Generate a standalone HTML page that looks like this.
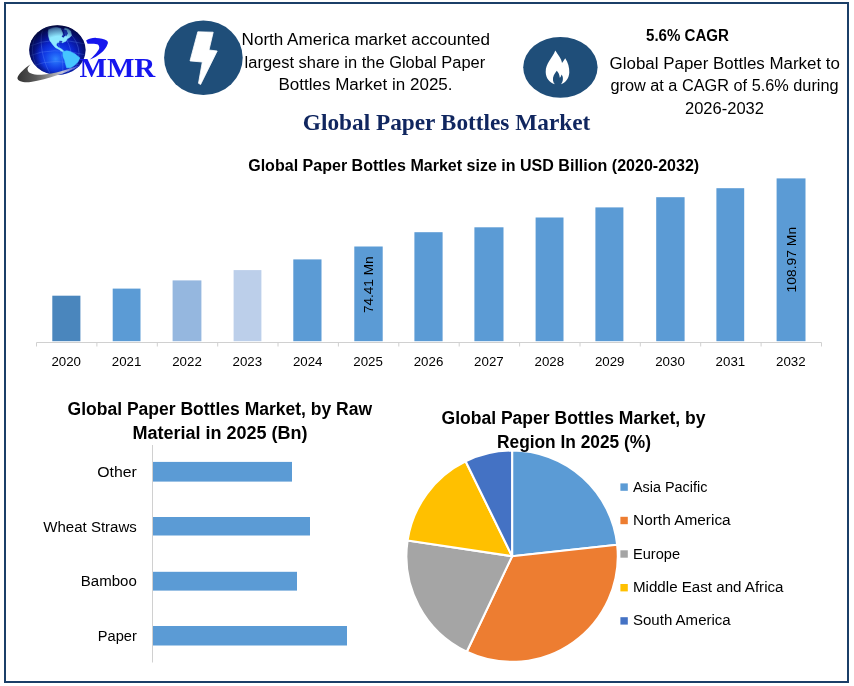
<!DOCTYPE html>
<html lang="en"><head><meta charset="utf-8"><title>Global Paper Bottles Market</title>
<style>html,body{margin:0;padding:0;background:#fff;}body{width:854px;height:686px;overflow:hidden;}svg{display:block;}text{font-family:"Liberation Sans",Arial,sans-serif;fill:#000;}.b{font-weight:bold;}.serif{font-family:"Liberation Serif","Times New Roman",serif;font-weight:bold;}</style></head><body>
<svg width="854" height="686" viewBox="0 0 854 686">
<defs><radialGradient id="gl" cx="0.52" cy="0.6" r="0.6"><stop offset="0" stop-color="#0c34f0"/><stop offset="0.45" stop-color="#0a22c8"/><stop offset="0.75" stop-color="#07148a"/><stop offset="1" stop-color="#030840"/></radialGradient><radialGradient id="gl2" cx="0.47" cy="0.68" r="0.42"><stop offset="0" stop-color="#2f86ff"/><stop offset="0.5" stop-color="#1548f0" stop-opacity="0.7"/><stop offset="1" stop-color="#0a2ee6" stop-opacity="0"/></radialGradient><radialGradient id="gl3" cx="0.54" cy="0.58" r="0.6"><stop offset="0.6" stop-color="#040a50" stop-opacity="0"/><stop offset="0.85" stop-color="#040a50" stop-opacity="0.5"/><stop offset="1" stop-color="#02062e" stop-opacity="0.92"/></radialGradient><linearGradient id="sw" x1="0" y1="0" x2="1" y2="0"><stop offset="0" stop-color="#333"/><stop offset="0.3" stop-color="#5a5a5a"/><stop offset="0.55" stop-color="#9a9a9a"/><stop offset="0.72" stop-color="#c4c6d6"/><stop offset="0.9" stop-color="#5f6fd8"/><stop offset="1" stop-color="#1a2ad0"/></linearGradient><clipPath id="gc"><ellipse cx="57.4" cy="50.1" rx="28.2" ry="24.9"/></clipPath></defs>
<rect width="854" height="686" fill="#fff"/>
<rect x="5" y="3" width="843" height="679" fill="none" stroke="#1b3f68" stroke-width="2"/>
<g id="logo">
<ellipse cx="57.4" cy="50.1" rx="28.2" ry="24.9" fill="url(#gl)"/>
<g clip-path="url(#gc)">
<ellipse cx="57.4" cy="50.1" rx="28.2" ry="24.9" fill="url(#gl2)"/>
<g fill="none" stroke="#6f9cff" stroke-width="0.5" opacity="0.55"><ellipse cx="52" cy="54" rx="9" ry="27" transform="rotate(-14 52 54)"/><ellipse cx="52" cy="54" rx="19" ry="27" transform="rotate(-14 52 54)"/><ellipse cx="52" cy="54" rx="27" ry="27" transform="rotate(-14 52 54)"/><path d="M30 46 Q52 36 86 44 M29 56 Q52 46 86 55 M32 66 Q55 57 84 66"/></g>
<path d="M48.7 29.5 L52.5 28.0 L56.3 27.4 L60.5 28.5 L61.9 31.4 L62.9 34.2 L61.5 36.6 L63.4 38.0 L65.7 35.6 L64.3 31.4 L64.8 28.1 L68.1 29.0 L70.5 30.9 L71.6 35.6 L69.5 37.5 L67.6 38.5 L65.7 41.3 L62.4 42.7 L60.0 42.0 L57.2 42.7 L56.1 45.1 L58.2 47.5 L61.5 48.9 L63.8 51.3 L62.4 51.7 L59.1 49.4 L55.3 47.5 L52.5 44.2 L49.8 40.4 L48.5 36.1 L48.2 32.3 Z" fill="#8ee9ff" stroke="#8ee9ff" stroke-width="0.6" stroke-linejoin="round"/>
<path d="M62.5 29.5 L66.5 30 L68 33.5 L66 36.5 L64.2 33 Z M59.5 40.8 L62.5 41 L61.5 43 L59 42.5 Z" fill="#0b22b0" opacity="0.85"/>
<path d="M62.9 51.7 L66.7 50.8 L69.5 51.3 L75.2 54.1 L79.9 57.9 L78.0 61.7 L74.3 65.5 L70.5 67.8 L66.7 67.8 L65.7 64.5 L64.8 60.7 L62.9 56.0 Z" fill="#46c6ff" stroke="#46c6ff" stroke-width="0.6" stroke-linejoin="round"/>
<ellipse cx="57.4" cy="50.1" rx="28.2" ry="24.9" fill="url(#gl3)"/>
</g>
<path d="M30.7 64.3 C28.5 66.5 27.2 68.3 27.6 69.8 C28 71.8 29 72.6 30.7 73.2 C34.5 74.8 39 75 43.9 74.5 C48 74.2 52 73.6 56.3 72.6 C60 71.7 64 70.5 67.6 69.3 L79.6 65.2 L79.7 65.9 C75.5 68 71.5 69.8 67.6 71.6 C64 73.2 60 74.6 56.3 75.6 C52 76.9 48 78.2 43.9 79.2 C39.5 80.4 35 81.4 30.7 82 C27 82.4 22.5 82.3 19.8 81 C17.2 79.8 17 78.2 17.9 76.6 C19.5 73.5 24.5 68 30.7 64.3 Z" fill="url(#sw)"/>
<path d="M86.1 40.5 C89 38.5 93 37.7 96.1 37.9 C100 37.9 104.5 38.8 106.6 40.5 C108 41.5 108.2 42.8 107.7 43.7 C106.5 47.5 104 50.5 101.3 52.7 C98 55.5 94 58 89.8 59.5 C93 57 95.8 54 97.7 51.1 C98.8 49.5 99.5 48.2 99.2 46.9 C99 45.3 98.2 44.5 97.1 44.2 C94 43.5 90.5 43.6 87.6 43.7 Z" fill="#1616ee"/>
<text class="serif" x="79.5" y="76.6" font-size="28" textLength="75.8" lengthAdjust="spacingAndGlyphs" style="fill:#1616ee">MMR</text>
</g>
<ellipse cx="203.4" cy="57.8" rx="39.3" ry="37.3" fill="#1f4e79"/>
<path d="M197.8 31.8 L213.2 32.2 L209 50 L217.2 51 L200.6 84.5 L198.5 83.3 L202.3 62 L190 60.9 Z" fill="#fff" stroke="#fff" stroke-width="0.8" stroke-linejoin="round"/>
<ellipse cx="560.4" cy="67.3" rx="37.2" ry="30.4" fill="#1f4e79"/>
<path d="M555.3 50.6 C558 55 561.5 58.5 562 63 C563 61.5 564.3 60 565.2 58.3 C568 62.5 569.5 67.5 569.3 72.5 C569 78 566 82.5 561 84.2 C563.5 81 563.5 77 561.5 74.5 C561.2 76 560.6 77 559.8 77.8 C559.5 75 558.5 72.5 556.8 70.8 C554.5 73.5 552.5 77 553 80.5 C553.2 82 553.8 83.2 554.8 84.2 C549.5 82.8 545.8 78 545.7 72 C545.6 63.5 552.5 58 555.3 50.6 Z" fill="#fff"/>
<text x="241.6" y="45.1" font-size="15.6" textLength="248.4" lengthAdjust="spacingAndGlyphs">North America market accounted</text>
<text x="244.6" y="67.5" font-size="15.6" textLength="240.6" lengthAdjust="spacingAndGlyphs">largest share in the Global Paper</text>
<text x="278.4" y="89.8" font-size="15.6" textLength="174.2" lengthAdjust="spacingAndGlyphs">Bottles Market in 2025.</text>
<text x="646" y="40.8" font-size="15.8" textLength="83" lengthAdjust="spacingAndGlyphs" class="b">5.6% CAGR</text>
<text x="609.6" y="68.6" font-size="15.6" textLength="230.4" lengthAdjust="spacingAndGlyphs">Global Paper Bottles Market to</text>
<text x="610.4" y="91.1" font-size="15.6" textLength="228.2" lengthAdjust="spacingAndGlyphs">grow at a CAGR of 5.6% during</text>
<text x="685" y="113.8" font-size="15.6" textLength="79" lengthAdjust="spacingAndGlyphs">2026-2032</text>
<text class="serif" x="302.8" y="129.8" font-size="23.3" textLength="287.5" lengthAdjust="spacingAndGlyphs" style="fill:#10265f">Global Paper Bottles Market</text>
<text x="248.2" y="171" font-size="16" textLength="451" lengthAdjust="spacingAndGlyphs" class="b">Global Paper Bottles Market size in USD Billion (2020-2032)</text>
<rect x="52.3" y="295.7" width="28.1" height="45.5" fill="#4a86bd"/>
<rect x="112.7" y="288.6" width="27.8" height="52.6" fill="#5b9bd5"/>
<rect x="172.6" y="280.4" width="28.8" height="60.8" fill="#95b7df"/>
<rect x="233.6" y="270.1" width="27.8" height="71.1" fill="#bccfea"/>
<rect x="293.3" y="259.4" width="28.2" height="81.8" fill="#5b9bd5"/>
<rect x="354.3" y="246.5" width="28.4" height="94.7" fill="#5b9bd5"/>
<rect x="414.4" y="232.2" width="28.2" height="109.0" fill="#5b9bd5"/>
<rect x="474.4" y="227.3" width="29.1" height="113.9" fill="#5b9bd5"/>
<rect x="535.6" y="217.5" width="27.9" height="123.7" fill="#5b9bd5"/>
<rect x="595.4" y="207.4" width="28.0" height="133.8" fill="#5b9bd5"/>
<rect x="656.2" y="197.2" width="28.4" height="144.0" fill="#5b9bd5"/>
<rect x="716.4" y="188.2" width="27.8" height="153.0" fill="#5b9bd5"/>
<rect x="776.6" y="178.4" width="28.9" height="162.8" fill="#5b9bd5"/>
<path d="M36.5 342.5 H821.5" stroke="#d0d0d0" stroke-width="1" fill="none"/>
<path d="M36.5 342.5 v4 M96.9 342.5 v4 M157.3 342.5 v4 M217.7 342.5 v4 M278.0 342.5 v4 M338.4 342.5 v4 M398.8 342.5 v4 M459.2 342.5 v4 M519.6 342.5 v4 M580.0 342.5 v4 M640.3 342.5 v4 M700.7 342.5 v4 M761.1 342.5 v4 M821.5 342.5 v4 " stroke="#d0d0d0" stroke-width="1" fill="none"/>
<text x="51.4" y="366" font-size="12.9" textLength="29.6" lengthAdjust="spacingAndGlyphs">2020</text>
<text x="111.8" y="366" font-size="12.9" textLength="29.6" lengthAdjust="spacingAndGlyphs">2021</text>
<text x="172.2" y="366" font-size="12.9" textLength="29.6" lengthAdjust="spacingAndGlyphs">2022</text>
<text x="232.5" y="366" font-size="12.9" textLength="29.6" lengthAdjust="spacingAndGlyphs">2023</text>
<text x="292.9" y="366" font-size="12.9" textLength="29.6" lengthAdjust="spacingAndGlyphs">2024</text>
<text x="353.3" y="366" font-size="12.9" textLength="29.6" lengthAdjust="spacingAndGlyphs">2025</text>
<text x="413.7" y="366" font-size="12.9" textLength="29.6" lengthAdjust="spacingAndGlyphs">2026</text>
<text x="474.1" y="366" font-size="12.9" textLength="29.6" lengthAdjust="spacingAndGlyphs">2027</text>
<text x="534.5" y="366" font-size="12.9" textLength="29.6" lengthAdjust="spacingAndGlyphs">2028</text>
<text x="594.9" y="366" font-size="12.9" textLength="29.6" lengthAdjust="spacingAndGlyphs">2029</text>
<text x="655.2" y="366" font-size="12.9" textLength="29.6" lengthAdjust="spacingAndGlyphs">2030</text>
<text x="715.6" y="366" font-size="12.9" textLength="29.6" lengthAdjust="spacingAndGlyphs">2031</text>
<text x="776.0" y="366" font-size="12.9" textLength="29.6" lengthAdjust="spacingAndGlyphs">2032</text>
<text x="372.8" y="313.1" font-size="12.9" textLength="56.7" lengthAdjust="spacingAndGlyphs" transform="rotate(-90 372.8 313.1)">74.41 Mn</text>
<text x="796" y="292.4" font-size="12.9" textLength="65.5" lengthAdjust="spacingAndGlyphs" transform="rotate(-90 796 292.4)">108.97 Mn</text>
<text x="67.6" y="415" font-size="18" textLength="304.5" lengthAdjust="spacingAndGlyphs" class="b">Global Paper Bottles Market, by Raw</text>
<text x="132.5" y="439.4" font-size="18" textLength="175" lengthAdjust="spacingAndGlyphs" class="b">Material in 2025 (Bn)</text>
<path d="M152.5 445 V662.5" stroke="#d0d0d0" stroke-width="1" fill="none"/>
<rect x="153" y="461.9" width="139" height="19.700000000000045" fill="#5b9bd5"/>
<text x="97.2" y="476.9" font-size="14.9" textLength="39.6" lengthAdjust="spacingAndGlyphs">Other</text>
<rect x="153" y="517" width="157" height="18.5" fill="#5b9bd5"/>
<text x="43.3" y="531.5" font-size="14.9" textLength="93.5" lengthAdjust="spacingAndGlyphs">Wheat Straws</text>
<rect x="153" y="571.8" width="144" height="18.800000000000068" fill="#5b9bd5"/>
<text x="80.8" y="586.4" font-size="14.9" textLength="56" lengthAdjust="spacingAndGlyphs">Bamboo</text>
<rect x="153" y="626" width="194" height="19.5" fill="#5b9bd5"/>
<text x="97.8" y="641.0" font-size="14.9" textLength="39" lengthAdjust="spacingAndGlyphs">Paper</text>
<path d="M512.1 556.2 L512.10 450.50 A105.7 105.7 0 0 1 617.17 544.71 Z" fill="#5b9bd5" stroke="#fff" stroke-width="2.1" stroke-linejoin="round"/>
<path d="M512.1 556.2 L617.17 544.71 A105.7 105.7 0 0 1 466.76 651.68 Z" fill="#ed7d31" stroke="#fff" stroke-width="2.1" stroke-linejoin="round"/>
<path d="M512.1 556.2 L466.76 651.68 A105.7 105.7 0 0 1 407.56 540.58 Z" fill="#a5a5a5" stroke="#fff" stroke-width="2.1" stroke-linejoin="round"/>
<path d="M512.1 556.2 L407.56 540.58 A105.7 105.7 0 0 1 465.60 461.28 Z" fill="#ffc000" stroke="#fff" stroke-width="2.1" stroke-linejoin="round"/>
<path d="M512.1 556.2 L465.60 461.28 A105.7 105.7 0 0 1 512.10 450.50 Z" fill="#4472c4" stroke="#fff" stroke-width="2.1" stroke-linejoin="round"/>
<text x="441.5" y="423.6" font-size="18" textLength="264" lengthAdjust="spacingAndGlyphs" class="b">Global Paper Bottles Market, by</text>
<text x="497" y="447.6" font-size="18" textLength="154" lengthAdjust="spacingAndGlyphs" class="b">Region In 2025 (%)</text>
<rect x="620.4" y="483.4" width="7.4" height="7.4" fill="#5b9bd5"/>
<text x="633" y="491.6" font-size="14.9" textLength="74.4" lengthAdjust="spacingAndGlyphs">Asia Pacific</text>
<rect x="620.4" y="516.8" width="7.4" height="7.4" fill="#ed7d31"/>
<text x="633" y="525" font-size="14.9" textLength="97.7" lengthAdjust="spacingAndGlyphs">North America</text>
<rect x="620.4" y="550.3" width="7.4" height="7.4" fill="#a5a5a5"/>
<text x="633" y="558.5" font-size="14.9" textLength="47.1" lengthAdjust="spacingAndGlyphs">Europe</text>
<rect x="620.4" y="584.0" width="7.4" height="7.4" fill="#ffc000"/>
<text x="633" y="592.2" font-size="14.9" textLength="150.5" lengthAdjust="spacingAndGlyphs">Middle East and Africa</text>
<rect x="620.4" y="617.2" width="7.4" height="7.4" fill="#4472c4"/>
<text x="633" y="625.4" font-size="14.9" textLength="97.7" lengthAdjust="spacingAndGlyphs">South America</text>
</svg></body></html>
